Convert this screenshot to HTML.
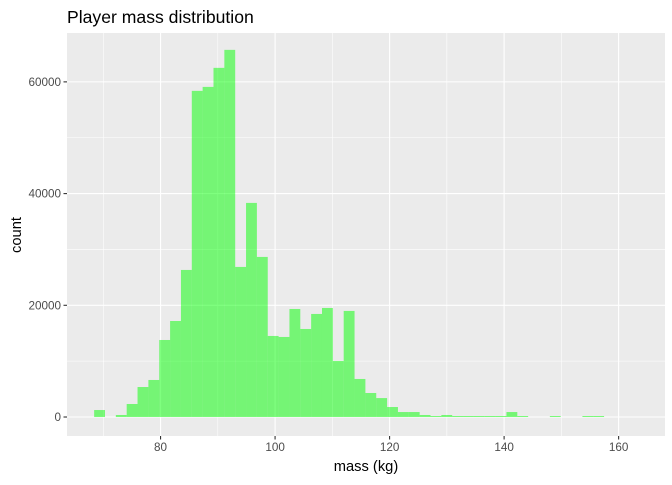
<!DOCTYPE html>
<html><head><meta charset="utf-8"><style>
body{margin:0;background:#fff;}
svg text{font-family:"Liberation Sans",Arial,sans-serif;}
</style></head><body>
<svg id="chart" width="672" height="480" xmlns="http://www.w3.org/2000/svg">
<rect width="672" height="480" fill="#fff"/>
<text x="67" y="23" font-size="17.6" fill="#000">Player mass distribution</text>
<rect x="67" y="33" width="598" height="403" fill="#EBEBEB"/>
<g id="grid"></g>
<g id="bars"></g>
<g id="axes"></g>
<text x="366" y="471" font-size="14.7" text-anchor="middle" fill="#000">mass (kg)</text>
<text transform="translate(21,235) rotate(-90)" font-size="14.7" text-anchor="middle" fill="#000">count</text>
</svg>
<script>
const binStart = 68.4;
const binWidth = 1.895;
const counts = [1250,0,360,2330,5370,6630,13790,17190,26330,58390,59100,62510,65730,26870,38330,28660,14510,14330,19340,15760,18450,19520,10030,18990,6810,4300,3390,1790,890,890,360,180,360,180,180,180,180,180,890,180,0,0,180,0,0,180,180];
const xTicks = [80,100,120,140,160];
const xMinor = [70,90,110,130,150];
const yTicks = [0,20000,40000,60000];
const yMinor = [10000,30000,50000];

const NS = "http://www.w3.org/2000/svg";
const px0 = 67, px1 = 665, py0 = 436, py1 = 33;
const xMin = 63.66, xMax = 168.1, yMin = -3400, yMax = 68750;
function xs(v){return px0 + (v - xMin) / (xMax - xMin) * (px1 - px0);}
function ys(v){return py0 - (v - yMin) / (yMax - yMin) * (py0 - py1);}
function mk(tag, attrs, parent){const e=document.createElementNS(NS,tag);for(const k in attrs)e.setAttribute(k,attrs[k]);parent.appendChild(e);return e;}

const grid = document.getElementById('grid');
xMinor.forEach(v=>{const l=mk('line',{x1:xs(v),x2:xs(v),y1:py1,y2:py0,stroke:'#fff','stroke-width':0.55},grid);

});
yMinor.forEach(v=>{const l=mk('line',{x1:px0,x2:px1,y1:ys(v),y2:ys(v),stroke:'#fff','stroke-width':0.55},grid);

});
xTicks.forEach(v=>{const l=mk('line',{x1:xs(v),x2:xs(v),y1:py1,y2:py0,stroke:'#fff','stroke-width':1.1},grid);

});
yTicks.forEach(v=>{const l=mk('line',{x1:px0,x2:px1,y1:ys(v),y2:ys(v),stroke:'#fff','stroke-width':1.1},grid);

});

const bars = document.getElementById('bars');
counts.forEach((c,i)=>{
  if(c<=0) return;
  const a = binStart + i*binWidth, b = a + binWidth;
  const r = mk('rect',{x:xs(a),y:ys(c),width:xs(b)-xs(a),height:ys(0)-ys(c),fill:'#00FF00','fill-opacity':0.5},bars);
  
  
});

const axes = document.getElementById('axes');
xTicks.forEach(v=>{
  const t = mk('line',{x1:xs(v),x2:xs(v),y1:py0,y2:py0+3.5,stroke:'#333','stroke-width':1.1},axes);
  
  
  const tx = mk('text',{x:xs(v),y:py0+15,'font-size':11.7,'text-anchor':'middle',fill:'#4D4D4D'},axes);
  tx.textContent = v;
  
  
});
yTicks.forEach(v=>{
  const t = mk('line',{x1:px0-3.5,x2:px0,y1:ys(v),y2:ys(v),stroke:'#333','stroke-width':1.1},axes);
  
  
  const tx = mk('text',{x:px0-6,y:ys(v)+4,'font-size':11.7,'text-anchor':'end',fill:'#4D4D4D'},axes);
  tx.textContent = v;
  
  
});
</script>
</body></html>
